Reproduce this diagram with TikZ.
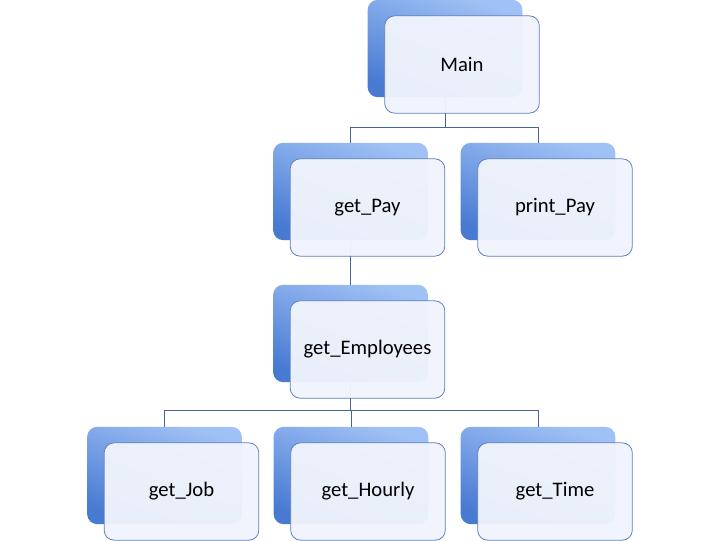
\documentclass[tikz,border=0pt]{standalone}
\usepackage{fontspec}
\setmainfont{Carlito}
\usepackage{xcolor}

\definecolor{backtop}{RGB}{160,193,245}
\definecolor{backbot}{RGB}{72,122,210}
\definecolor{frontfill}{RGB}{240,244,252}
\definecolor{frontline}{RGB}{95,128,190}
\definecolor{connline}{RGB}{70,100,150}

\tikzset{
  backbox/.style={rounded corners=7.5pt, minimum width=116pt, minimum height=73pt,
    inner sep=0pt, top color=backtop, bottom color=backbot, shading angle=-20},
  frontbox/.style={rounded corners=7.5pt, minimum width=116pt, minimum height=73pt,
    inner sep=0pt, draw=frontline, line width=0.6pt, fill=frontfill, fill opacity=0.96,
    text opacity=1, font=\fontsize{15.5}{18}\selectfont},
  conn/.style={draw=connline, line width=0.5pt}
}

\begin{document}
\begin{tikzpicture}[x=0.75pt,y=0.75pt,yscale=-1,xscale=1]
\useasboundingbox (0,0) rectangle (720,540);

%back boxes
\node [backbox] (mainb) at (445,48.5) {};
\node [backbox] (getpayb) at (350.5,191.5) {};
\node [backbox] (printpayb) at (538,191.5) {};
\node [backbox] (getempb) at (350.5,333.5) {};
\node [backbox] (getjobb) at (164.5,475.5) {};
\node [backbox] (gethourb) at (351,475.5) {};
\node [backbox] (gettimeb) at (538,475.5) {};

%connectors
\draw [conn] (mainb.south) -- (mainb.south |- 0,127) -| (getpayb.north);
\draw [conn] (mainb.south |- 0,127) -| (printpayb.north);
\draw [conn] (getpayb.south) -- (getempb.north);
\draw [conn] (getempb.south) -- (getempb.south |- 0,410) -| (getjobb.north);
\draw [conn] (getempb.south |- 0,410) -| (gettimeb.north);
\draw [conn] (getempb.south |- 0,410) -| (gethourb.north);

%front boxes
\node [frontbox] (main) at ([shift={(17,16)}]mainb.center) {Main};
\node [frontbox] (getpay) at ([shift={(17,16)}]getpayb.center) {get\_Pay};
\node [frontbox] (printpay) at ([shift={(17,16)}]printpayb.center) {print\_Pay};
\node [frontbox] (getemp) at ([shift={(17,16)}]getempb.center) {get\_Employees};
\node [frontbox] (getjob) at ([shift={(17,16)}]getjobb.center) {get\_Job};
\node [frontbox] (gethour) at ([shift={(17,16)}]gethourb.center) {get\_Hourly};
\node [frontbox] (gettime) at ([shift={(17,16)}]gettimeb.center) {get\_Time};

\end{tikzpicture}
\end{document}
